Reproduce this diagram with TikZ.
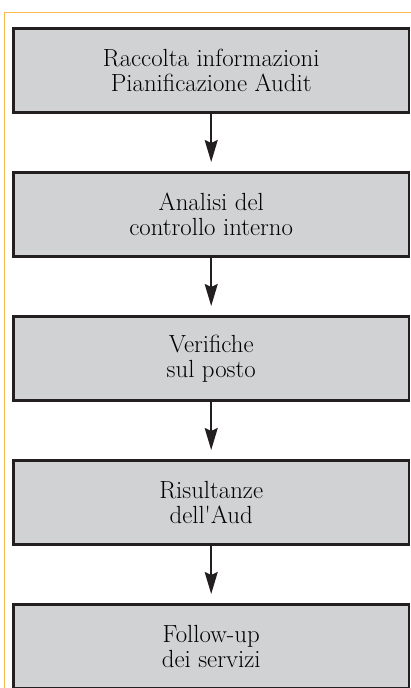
\documentclass[tikz,border=0pt]{standalone}
\usepackage{fontspec}
\usepackage{tikz}
\usetikzlibrary{arrows.meta,positioning}
\definecolor{boxgray}{RGB}{209,210,212}
\definecolor{boxline}{RGB}{35,31,32}
\definecolor{frameorange}{RGB}{251,184,76}

\begin{document}
\begin{tikzpicture}[x=1pt,y=1pt,line cap=butt,
  phase/.style={draw=boxline,fill=boxgray,line width=2.6pt,minimum width=395.9pt,minimum height=84.4pt,
    align=center,font=\fontsize{24.8}{25.5}\selectfont,text=black},
  flow/.style={draw=boxline,line width=1.9pt,-{Stealth[length=22pt,width=13pt,inset=3pt]},shorten >=9pt},
  node distance=57pt]
  \useasboundingbox (0,0) rectangle (411,688);
  % the orange frame, running off the right and bottom edges
  \draw[frameorange,line width=1.3pt] (4.3,-20) -- (4.3,675.7) -- (430,675.7);
  % the five phases, one under the other
  \node[phase] (racc) at (211.2,617.5) {Raccolta informazioni\\Pianificazione Audit};
  \node[phase,below=of racc] (anal) {Analisi del\\controllo interno};
  \node[phase,below=of anal] (verif) {Verifiche\\sul posto};
  \node[phase,below=of verif] (risul) {Risultanze\\dell\textquotesingle Aud};
  \node[phase,below=of risul] (follow) {Follow-up\\dei servizi};
  \foreach \a/\b in {racc/anal,anal/verif,verif/risul,risul/follow}{
    \draw[flow] (\a) -- (\b);
  }
\end{tikzpicture}
\end{document}
